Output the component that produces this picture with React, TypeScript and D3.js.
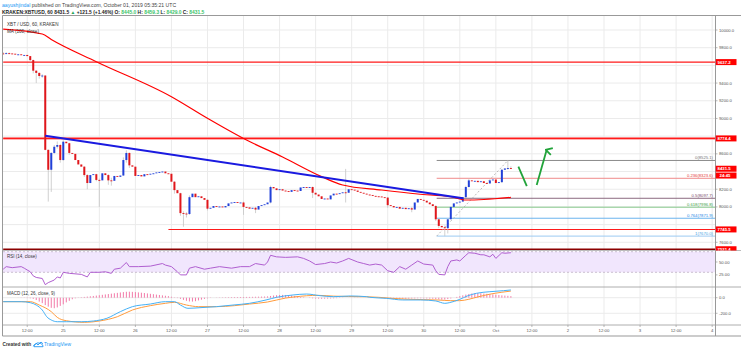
import * as d3 from 'd3';

// hourly closes, KRAKEN XBT/USD, first candle 2019-09-24 04:00 UTC
const closes = [
  9730, 9738, 9735, 9732, 9722, 9725, 9715, 9718, 9705, 9660,
  9540, 9515, 9480, 9485, 8645, 8420, 8610, 8680, 8700, 8530,
  8737, 8720, 8610, 8600, 8530, 8480, 8455, 8360, 8270, 8360,
  8370, 8305, 8300, 8380, 8360, 8300, 8295, 8350, 8340, 8355,
  8530, 8610, 8470, 8455, 8350, 8360, 8345, 8370, 8365, 8375,
  8380, 8390, 8395, 8400, 8380, 8375, 8285, 8190, 8155, 7930,
  7925, 7920, 8110, 8150, 8110, 8120, 8100, 8080, 7980, 7990,
  8010, 8000, 8005, 7995, 8010, 8040, 8050, 8055, 8045, 8050,
  8000, 7995, 7980, 7990, 7970, 8010, 8020, 8030, 8050, 8225,
  8210, 8190, 8200, 8185, 8180, 8170, 8190, 8185, 8180, 8220,
  8225, 8215, 8225, 8160, 8140, 8120, 8090, 8095, 8085, 8130,
  8150, 8145, 8155, 8165, 8160, 8200, 8195, 8185, 8170, 8160,
  8150, 8140, 8135, 8125, 8120, 8118, 8110, 8105, 8020, 8010,
  7995, 8000, 7980, 7990, 7975, 7985, 7970, 8050, 8090, 8080,
  8070, 8050, 8030, 8010, 7860, 7785, 7770, 7760, 7860, 8000,
  8040, 8050, 8060, 8110, 8225, 8300, 8290, 8295, 8280, 8290,
  8270, 8265, 8300, 8310, 8270, 8280, 8420, 8435, 8440, 8431.5,
];
const firstOpen = 9735;

// [hour, high, low] for the candles with a visible wick
const wicks: [number, number, number][] = [
  [0, 9750, 9725], [1, 9748, 9728], [2, 9745, 9728], [9, 9705, 9640], [10, 9665, 9510],
  [11, 9545, 9400], [12, 9520, 9450], [13, 9500, 9460], [14, 9490, 8640], [15, 8650, 8060],
  [16, 8620, 8170], [17, 8700, 8600], [18, 8740, 8660], [19, 8710, 8500], [20, 8750, 8520],
  [22, 8725, 8590], [27, 8460, 8340], [28, 8370, 8200], [31, 8375, 8290], [32, 8320, 8000],
  [35, 8370, 8250], [36, 8330, 8240], [40, 8560, 8350], [41, 8640, 8500], [42, 8615, 8440],
  [57, 8290, 8150], [59, 8160, 7900], [60, 7950, 7776], [61, 7940, 7880], [62, 8130, 7910],
  [68, 8085, 7960], [80, 8060, 7910], [84, 8000, 7930], [89, 8240, 8040], [103, 8230, 8100],
  [114, 8430, 8050], [128, 8110, 7990], [136, 8000, 7940], [144, 8020, 7840], [145, 7870, 7760],
  [147, 7790, 7670], [148, 7870, 7700], [154, 8240, 8100], [155, 8320, 8220], [166, 8430, 8270],
  [168, 8525, 8420], [169, 8459, 8429],
];

// MA(100), [hour, price]
const smaPoints: [number, number][] = [
  [0, 10011], [13, 9955], [16, 9893], [31, 9642], [56, 9246], [68, 9002], [81, 8756],
  [93, 8564], [106, 8342], [113, 8248], [126, 8191], [138, 8146], [149, 8115],
  [154, 8078], [160, 8084], [169, 8109],
];

const trendLine: [number, number][] = [[14, 8805], [153, 8097]];

const levelPrices = [9637.2, 8774.4, 7745.5, 7521.4];
const levelFrom = [0, 0, 55, 0];

const fibRatios = ['0', '0.236', '0.5', '0.618', '0.764', '1'];
const fibPrices = [8525.1, 8323.6, 8097.7, 7996.8, 7871.9, 7670.0];
const fibAnchor: [number, number][] = [[144.3, 7670.0], [168, 8525.1]];

const arrowDown: [number, number][] = [[171.5, 8455], [174.3, 8236]];
const arrowUp: [number, number][] = [[177.6, 8248], [180.9, 8643]];

const rsiPoints: [number, number][] = [
  [0, 36], [1, 41], [3, 39], [6, 41], [7, 38], [9, 31], [10, 23], [11, 20], [13, 18], [14, 6],
  [15, 10], [17, 15], [18, 21], [19, 19], [20, 30], [22, 28], [26, 26], [28, 21], [29, 30],
  [32, 30], [34, 31], [36, 28], [37, 36], [39, 38], [41, 49], [42, 41], [45, 41], [49, 42],
  [53, 47], [54, 44], [56, 41], [58, 31], [59, 25], [61, 25], [62, 38], [64, 41], [67, 36],
  [69, 38], [72, 41], [76, 38], [79, 41], [82, 41], [84, 47], [87, 44], [88, 50], [89, 63],
  [91, 60], [94, 59], [98, 60], [100, 57], [102, 52], [104, 45], [107, 47], [109, 50],
  [111, 48], [113, 52], [115, 57], [118, 50], [120, 47], [122, 44], [124, 46], [126, 44],
  [128, 33], [130, 30], [132, 41], [134, 36], [136, 44], [138, 52], [140, 46], [143, 44],
  [144, 33], [145, 26], [147, 25], [148, 41], [149, 52], [151, 54], [152, 52], [154, 63],
  [155, 68], [157, 67], [159, 64], [160, 64], [162, 60], [163, 65], [164, 57], [166, 68],
  [167, 67], [169, 68],
];

const macdPoints: [number, number][] = [
  [0, -51], [6, -51], [9, -64], [11, -94], [13, -158], [14.5, -244], [16, -286], [18, -308],
  [21, -308], [26, -308], [30, -299], [34.5, -264], [39, -179], [43, -115], [49, -81],
  [54, -51], [57, -51], [59, -94], [61.5, -136], [65.5, -128], [71, -115], [76.5, -94],
  [82, -72], [87.5, -29], [91, 5], [96.5, 35], [101, 47], [105.5, 26], [110, 13], [115.5, 22],
  [121, 13], [122, 5], [127.5, -8], [133, -29], [139, -29], [144, -42], [147, -72],
  [148.5, -64], [152, -21], [154.5, 22], [157.5, 56], [162, 77], [166.5, 90], [169, 99],
];

const signalPoints: [number, number][] = [
  [0, -51], [9, -51], [12, -94], [16, -179], [18, -252], [21, -295], [27, -316], [32, -299],
  [38, -244], [43, -158], [49, -102], [54, -72], [57, -59], [61, -94], [65, -115], [71, -115],
  [77, -102], [82, -81], [88, -55], [91, -30], [94, -5], [97, 10], [101, 25], [105, 30],
  [110, 20], [115, 15], [121, 12], [125, 5], [130, -10], [135, -20], [140, -25], [145, -30],
  [149, -38], [152, -38], [155, -20], [158, 10], [162, 45], [166, 70], [169, 85],
];

const histogram = [
  0, 0, 0, 0, 0, -1, -2, -3, -5, -8,
  -15, -30, -50, -70, -95, -115, -130, -135, -125, -105, -85, -60, -40, -20, -8,
  3, 6, 10, 14, 18, 22, 27, 32, 37, 42, 47, 52, 57, 62, 67, 72, 76, 77, 75, 72, 68, 64, 60, 55, 50, 45, 40, 35, 30, 25, 20,
  12, 4, -5, -15, -28, -40, -48, -50, -45,
  -35, -25, -15, -8, -3, 0,
  2, 3, 4, 5, 6, 7, 8, 8, 9, 9, 10, 10, 11, 12, 13, 14, 15, 17,
  22, 28, 32, 35, 36, 35, 32, 28, 22,
  16, 10, 5, 0, -4, -8,
  -11, -13, -14, -13, -12, -10, -8, -6, -4,
  -2, 0, 1, 2, 2, 2, 1, 1, 0, 0, -1, -2, -3,
  -5, -8, -10, -12, -14, -15, -15, -14, -13, -12, -10, -9, -8, -8, -9, -10, -12, -14, -18, -22,
  -25, -24, -18, -10, 0,
  10, 20, 30, 40, 48, 54, 57, 58, 56, 53, 50, 46, 42, 38, 34, 30, 27, 24, 20,
];

const priceTicks = [7600, 7800, 8000, 8200, 8400, 8600, 8800, 9000, 9200, 9400, 9600, 9800, 10000];
const rsiTicks = [50, 25];
const rsiBand = [70, 30];
const macdTicks = [0, -200];
const dayLabels = ['25', '26', '27', '28', '29', '30', 'Oct', '2', '3', '4'];

const W = 741, HGT = 351;
const L = 3, R = 715.5;
const mainTop = 16, mainBot = 250.5, rsiBot = 287, macdBot = 325, axisBot = 336;
const FONT = 'Liberation Sans, Arial, sans-serif';

const START = Date.UTC(2019, 8, 24, 4);
const HOUR = 3600e3;
const t = (h: number) => new Date(START + h * HOUR);

const x = d3.scaleUtc().domain([t(0), t(240)]).range([3.2, 3.2 + 240 * 3.004]);
const y = d3.scaleLinear().domain([7600, 10000]).range([242.3, 30]);
const yRsi = d3.scaleLinear().domain([30, 70]).range([272.3, 251.7]);
const yMacd = d3.scaleLinear().domain([-200, 0]).range([313.3, 297.7]);

const xh = (h: number) => x(t(h));
const priceLine = d3.line<[number, number]>().x((d) => xh(d[0])).y((d) => y(d[1]));
const smaLine = d3.line<[number, number]>().x((d) => xh(d[0])).y((d) => y(d[1])).curve(d3.curveMonotoneX);
const rsiLine = d3.line<[number, number]>().x((d) => xh(d[0])).y((d) => yRsi(d[1]));
const macdLine = d3.line<[number, number]>().x((d) => xh(d[0])).y((d) => yMacd(d[1])).curve(d3.curveMonotoneX);

const UP = '#2140d8', DOWN = '#e0161b', GRID = '#ebebeb', AXIS_TXT = '#555';
const fibColors = ['#8a8a8a', '#f08a8a', '#8c6a80', '#86c98a', '#6bb4ee', '#9ccaf2'];
const fibText = ['#777', '#e53935', '#7a4a6a', '#43a047', '#1e88e5', '#4aa3df'];

export default function App() {
  const wickMap = new Map(wicks.map((w) => [w[0], w]));
  const ticks12 = d3.utcHour.every(12)!.range(t(0), t(240));
  let dayIdx = 0;
  const timeTicks = ticks12.map((d) => ({ d, label: d.getUTCHours() === 0 ? dayLabels[dayIdx++] : '12:00' }));
  const lastClose = closes[closes.length - 1];

  // axis tick labels sitting under a red price label are hidden, as TradingView does
  const labelYs = [...levelPrices, lastClose].map((p) => y(p));
  const visibleTicks = priceTicks.filter((p) => y(p) > mainTop + 2 && labelYs.every((ly) => Math.abs(ly - y(p)) > 5));

  const redLabel = (v: number, text: string, key: string) => (
    <g key={key}>
      <rect x={R} y={y(v) - 3} width={21} height={6} fill="#ff0000" />
      <text x={R + 2} y={y(v) + 1.5} fontSize={4.3} fill="#fff" fontWeight="bold">{text}</text>
    </g>
  );

  return (
    <div style={{ position: 'absolute', left: 0, top: 0 }}>
      <svg width={W} height={HGT} style={{ display: 'block', fontFamily: FONT }}>
        <rect width={W} height={HGT} fill="#fff" />
        <defs>
          <clipPath id="mainClip"><rect x={L} y={mainTop} width={R - L} height={mainBot - mainTop} /></clipPath>
          <clipPath id="axisClip"><rect x={R} y={mainTop} width={W - R} height={mainBot - mainTop} /></clipPath>
          <clipPath id="macdClip"><rect x={L} y={rsiBot} width={R - L} height={macdBot - rsiBot} /></clipPath>
          <marker id="arrowHead" viewBox="0 0 10 10" refX="5" refY="2" markerWidth="5" markerHeight="5" orient="auto-start-reverse">
            <path d="M1,8 L5,1 L9,8" fill="none" stroke="#21a33a" strokeWidth={2} />
          </marker>
        </defs>

        {/* header */}
        <text x={2} y={7} fontSize={5.1}>
          <tspan fill="#2196f3">aayushjindal</tspan>
          <tspan fill="#444"> published on TradingView.com, October 01, 2019 05:35:21 UTC</tspan>
        </text>
        <text x={2} y={13.5} fontSize={4.9} fontWeight="bold" fill="#222">
          <tspan>KRAKEN:XBTUSD, 60 8431.5 </tspan>
          <tspan fill="#26a65b">▲</tspan>
          <tspan> +121.5 (+1.46%) O: </tspan><tspan fill="#3cc36a">8445.0</tspan>
          <tspan> H: </tspan><tspan fill="#3cc36a">8459.3</tspan>
          <tspan> L: </tspan><tspan fill="#3cc36a">8429.0</tspan>
          <tspan> C: </tspan><tspan fill="#3cc36a">8431.5</tspan>
        </text>

        {/* grid */}
        {timeTicks.map((tk, i) => (
          <line key={'vg' + i} x1={x(tk.d)} x2={x(tk.d)} y1={mainTop} y2={macdBot} stroke={GRID} strokeWidth={1} />
        ))}
        {priceTicks.map((p) => (
          <line key={'hg' + p} x1={L} x2={R} y1={y(p)} y2={y(p)} stroke={GRID} strokeWidth={1} />
        ))}
        {macdTicks.map((v) => (
          <line key={'mg' + v} x1={L} x2={R} y1={yMacd(v)} y2={yMacd(v)} stroke={GRID} strokeWidth={1} />
        ))}

        {/* main pane */}
        <g clipPath="url(#mainClip)">
          {levelPrices.map((p, i) => (
            <g key={'lv' + p}>
              {i === 1 && <line x1={xh(levelFrom[i])} x2={R} y1={y(p)} y2={y(p)} stroke="#ffb0b0" strokeWidth={3} />}
              <line x1={xh(levelFrom[i])} x2={R} y1={y(p)} y2={y(p)}
                stroke={i === 3 ? '#8b0000' : '#ff1a1a'} strokeWidth={i === 3 ? 1.6 : 1.1} />
            </g>
          ))}
          {fibPrices.map((p, i) => (
            <g key={'fib' + i}>
              <line x1={xh(fibAnchor[0][0])} x2={R} y1={y(p)} y2={y(p)} stroke={fibColors[i]} strokeWidth={1} />
              <text x={R - 2.5} y={y(p) - 1.3} fontSize={4.2} textAnchor="end" fill={fibText[i]}>
                {`${fibRatios[i]}(${p.toFixed(1)})`}
              </text>
            </g>
          ))}
          <path d={priceLine(fibAnchor)!} stroke="#a8a8a8" strokeWidth={0.8} strokeDasharray="2,2" fill="none" />

          {closes.map((c, i) => {
            const o = i === 0 ? firstOpen : closes[i - 1];
            const w = wickMap.get(i);
            const cx = xh(i);
            const top = y(Math.max(o, c));
            const bot = y(Math.min(o, c));
            return (
              <g key={'c' + i}>
                {w && <line x1={cx} x2={cx} y1={y(w[1])} y2={y(w[2])} stroke="#c4c4c4" strokeWidth={0.8} />}
                <rect x={cx - 1} y={top} width={2} height={Math.max(bot - top, 0.9)} fill={c >= o ? UP : DOWN} />
              </g>
            );
          })}

          <path d={smaLine(smaPoints)!} stroke="#ff0000" strokeWidth={1.2} fill="none" />
          <path d={priceLine(trendLine)!} stroke="#1a1ae0" strokeWidth={2} fill="none" />

          <path d={priceLine(arrowDown)!} stroke="#21a33a" strokeWidth={1.8} fill="none" />
          <path d={priceLine(arrowUp)!} stroke="#21a33a" strokeWidth={1.8} fill="none" markerEnd="url(#arrowHead)" />
        </g>
        <text x={7} y={25.5} fontSize={4.6} fill="#333">XBT / USD, 60, KRAKEN</text>
        <text x={7} y={33} fontSize={4.6} fill="#333">MA (100, close)</text>

        {/* RSI pane */}
        <rect x={L} y={yRsi(rsiBand[0])} width={R - L} height={yRsi(rsiBand[1]) - yRsi(rsiBand[0])} fill="#f1e6fd" />
        {rsiBand.map((v) => (
          <line key={'rb' + v} x1={L} x2={R} y1={yRsi(v)} y2={yRsi(v)} stroke="#b7a9bd" strokeWidth={0.7} strokeDasharray="2,2" />
        ))}
        <path d={rsiLine(rsiPoints)!} stroke="#b05fd0" strokeWidth={1} fill="none" />
        <text x={7} y={258} fontSize={4.5} fill="#333">RSI (14, close)</text>

        {/* MACD pane */}
        <g clipPath="url(#macdClip)">
          {histogram.map((v, i) => (
            <line key={'h' + i} x1={xh(i)} x2={xh(i)} y1={yMacd(0)} y2={yMacd(v)} stroke="#f27aa8" strokeWidth={1} />
          ))}
          <path d={macdLine(signalPoints)!} stroke="#ff9b3d" strokeWidth={1} fill="none" />
          <path d={macdLine(macdPoints)!} stroke="#45b0f5" strokeWidth={1} fill="none" />
        </g>
        <text x={7} y={294.5} fontSize={4.5} fill="#333">MACD (12, 26, close, 9)</text>

        {/* frame */}
        <line x1={2.5} x2={W} y1={mainTop - 0.5} y2={mainTop - 0.5} stroke="#999" strokeWidth={1} />
        <line x1={2.5} x2={2.5} y1={mainTop - 0.5} y2={axisBot} stroke="#999" strokeWidth={1} />
        <line x1={R} x2={R} y1={mainTop - 0.5} y2={axisBot} stroke="#999" strokeWidth={1} />
        <line x1={2.5} x2={W} y1={mainBot} y2={mainBot} stroke="#aaa" strokeWidth={0.8} />
        <line x1={2.5} x2={W} y1={rsiBot} y2={rsiBot} stroke="#999" strokeWidth={0.8} />
        <line x1={2.5} x2={W} y1={macdBot} y2={macdBot} stroke="#999" strokeWidth={0.8} />
        <line x1={2.5} x2={W} y1={axisBot} y2={axisBot} stroke="#999" strokeWidth={1} />

        {/* price axis */}
        {visibleTicks.map((p) => (
          <g key={'pt' + p}>
            <line x1={R} x2={R + 2} y1={y(p)} y2={y(p)} stroke="#999" strokeWidth={0.7} />
            <text x={R + 3.5} y={y(p) + 1.5} fontSize={4.2} fill={AXIS_TXT}>{p.toFixed(1)}</text>
          </g>
        ))}
        <g clipPath="url(#axisClip)">
          {levelPrices.map((p, i) => redLabel(p, p.toFixed(1), 'rl' + i))}
          {redLabel(lastClose, lastClose.toFixed(1), 'last')}
          <rect x={R} y={y(lastClose) + 3.8} width={21} height={6} fill="#ff0000" />
          <text x={R + 4} y={y(lastClose) + 8.3} fontSize={4.3} fill="#fff" fontWeight="bold">24:45</text>
        </g>
        {rsiTicks.map((v) => (
          <g key={'rt' + v}>
            <line x1={R} x2={R + 2} y1={yRsi(v)} y2={yRsi(v)} stroke="#999" strokeWidth={0.7} />
            <text x={R + 3.5} y={yRsi(v) + 1.5} fontSize={4.2} fill={AXIS_TXT}>{v.toFixed(2)}</text>
          </g>
        ))}
        {macdTicks.map((v) => (
          <g key={'mt' + v}>
            <line x1={R} x2={R + 2} y1={yMacd(v)} y2={yMacd(v)} stroke="#999" strokeWidth={0.7} />
            <text x={R + 3.5} y={yMacd(v) + 1.5} fontSize={4.2} fill={AXIS_TXT}>{v.toFixed(1)}</text>
          </g>
        ))}

        {/* time axis */}
        {timeTicks.map((tk, i) => (
          <g key={'tt' + i}>
            <line x1={x(tk.d)} x2={x(tk.d)} y1={macdBot} y2={macdBot + 2} stroke="#999" strokeWidth={0.7} />
            <text x={x(tk.d)} y={331.5} fontSize={4.3} textAnchor="middle" fill={AXIS_TXT}>{tk.label}</text>
          </g>
        ))}

        {/* footer */}
        <text x={2.5} y={346} fontSize={4.8} fontWeight="bold" fill="#333">Created with</text>
        <g transform="translate(33,341.2)" fill="none" stroke="#2196f3" strokeWidth={0.9}>
          <path d="M0.5,5 L3,2 L5,3.8 L8,0.8 L10,2.6" />
          <path d="M1,5.5 Q0,3.5 2.5,3.2 Q3.5,1 6,1.8 Q8.5,1.5 9,3.6 Q10.5,4 10,5.5 Z" />
        </g>
        <text x={44} y={346} fontSize={4.9} fill="#2196f3">TradingView</text>
      </svg>
    </div>
  );
}
